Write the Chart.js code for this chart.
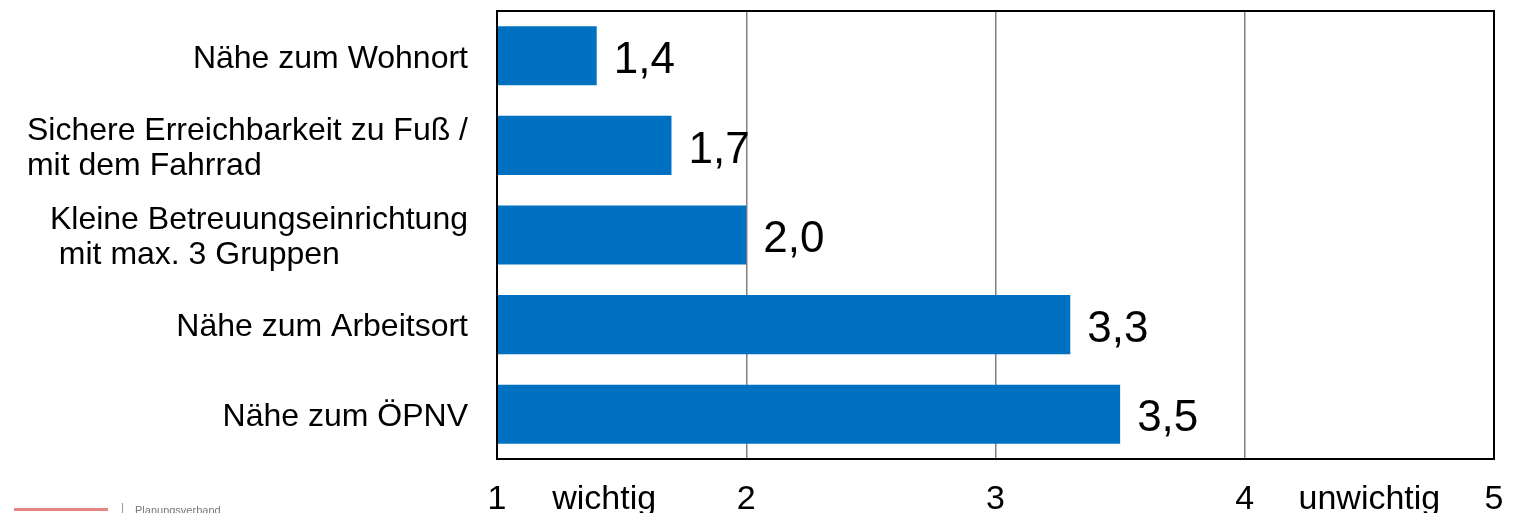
<!DOCTYPE html>
<html>
<head>
<meta charset="utf-8">
<title>Kriterien Kinderbetreuung</title>
<script src="https://cdn.jsdelivr.net/npm/chart.js@4/dist/chart.umd.min.js"></script>
<style>
  html, body { margin: 0; padding: 0; background: #fff; overflow: hidden; }
  #wrap { position: relative; width: 1517px; height: 513px; }
  #logo { position: absolute; left: 122px; top: 503px; height: 20px; border-left: 1px solid #999;
          padding-left: 12px; font: 11px "Liberation Sans", Arial, sans-serif; color: #777; line-height: 14px; }
  #logoRed { position: absolute; left: 14px; top: 508px; width: 94px; height: 8px;
             border-top: 3px solid #d9534f; opacity: 0.7; }
</style>
</head>
<body>
<div id="wrap">
  <canvas id="rankChart" width="1517" height="513"></canvas>
  <div id="logoRed"></div>
  <div id="logo">Planungsverband</div>
</div>
<script>
// Kategorien (mehrzeilig) und Mittelwerte
var categories = [
    ["Nähe zum Wohnort"],
    ["Sichere Erreichbarkeit zu Fuß /", "mit dem Fahrrad"],
    ["Kleine Betreuungseinrichtung", " mit max. 3 Gruppen"],
    ["Nähe zum Arbeitsort"],
    ["Nähe zum ÖPNV"]
];
var values = [1.4, 1.7, 2.0, 3.3, 3.5];

// Achsenbeschriftung unten
var tickValues = [1, 1.43, 2, 3, 4, 4.5, 5];
var tickLabels = ["1", "wichtig", "2", "3", "4", "unwichtig", "5"];

var FONT = "'Liberation Sans', Arial, sans-serif";

var categoryLabels = {
    id: 'categoryLabels',
    afterDraw: function (chart) {
        var ctx = chart.ctx;
        var y = chart.scales.y;
        var area = chart.chartArea;
        ctx.save();
        ctx.font = "32px " + FONT;
        ctx.fillStyle = "#000";
        ctx.textAlign = "left";
        ctx.textBaseline = "middle";
        categories.forEach(function (lines, i) {
            var cy = y.getPixelForTick(i) + 3;
            var w = Math.max.apply(null, lines.map(function (l) { return ctx.measureText(l).width; }));
            var x = area.left - 29 - w;
            lines.forEach(function (l, j) {
                ctx.fillText(l, x, cy + (j - (lines.length - 1) / 2) * 35);
            });
        });
        ctx.restore();
    }
};

var valueLabels = {
    id: 'valueLabels',
    afterDatasetsDraw: function (chart) {
        var ctx = chart.ctx;
        var meta = chart.getDatasetMeta(0);
        var area = chart.chartArea;
        ctx.save();
        // Rahmen
        ctx.strokeStyle = "#000";
        ctx.lineWidth = 2;
        ctx.strokeRect(area.left, area.top, area.right - area.left, area.bottom - area.top);
        ctx.font = "44px " + FONT;
        ctx.fillStyle = "#000";
        ctx.textAlign = "left";
        ctx.textBaseline = "middle";
        meta.data.forEach(function (bar, i) {
            ctx.fillText(values[i].toFixed(1).replace('.', ','), bar.x + 17, bar.y + 5);
        });
        ctx.restore();
    }
};

new Chart(document.getElementById("rankChart").getContext('2d'), {
    type: 'bar',
    data: {
        labels: categories,
        datasets: [{
            data: values,
            base: 1,
            backgroundColor: '#0070C0',
            borderWidth: 0,
            barPercentage: 0.66,
            categoryPercentage: 1
        }]
    },
    options: {
        indexAxis: 'y',
        responsive: false,
        animation: false,
        devicePixelRatio: 1,
        layout: { padding: { top: 11, right: 23, left: 0, bottom: 0 } },
        plugins: { legend: { display: false }, tooltip: { enabled: false } },
        scales: {
            x: {
                min: 1,
                max: 5,
                afterBuildTicks: function (scale) {
                    scale.ticks = tickValues.map(function (v) { return { value: v }; });
                },
                afterFit: function (scale) {
                    scale.height = 54;
                    scale.paddingLeft = 0;
                    scale.paddingRight = 0;
                },
                border: { display: false },
                grid: {
                    drawTicks: false,
                    lineWidth: 1.5,
                    color: function (c) {
                        var v = c.tick && c.tick.value;
                        return (v === 2 || v === 3 || v === 4) ? '#808080' : 'rgba(0,0,0,0)';
                    }
                },
                ticks: {
                    autoSkip: false,
                    maxRotation: 0,
                    padding: 20,
                    color: '#000',
                    font: { family: FONT, size: 34 },
                    callback: function (v, i) { return tickLabels[i]; }
                }
            },
            y: {
                afterFit: function (scale) { scale.width = 497; },
                border: { display: false },
                grid: { display: false },
                ticks: { display: false }
            }
        }
    },
    plugins: [categoryLabels, valueLabels]
});
</script>
</body>
</html>
